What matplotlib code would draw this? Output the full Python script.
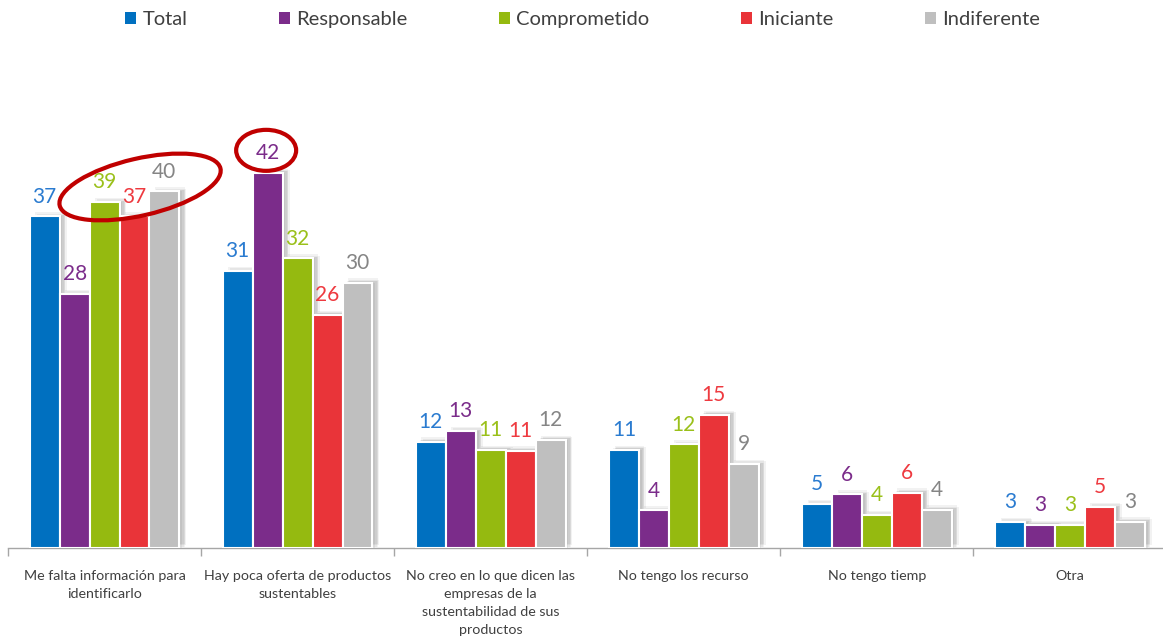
import matplotlib
matplotlib.use("Agg")
import matplotlib.pyplot as plt
import matplotlib.patheffects as pe
from matplotlib.patches import Patch, Ellipse
from matplotlib.transforms import IdentityTransform
import numpy as np

plt.rcParams['font.family'] = ['Lato', 'DejaVu Sans']

categorias = ["Me falta información para\nidentificarlo",
              "Hay poca oferta de productos\nsustentables",
              "No creo en lo que dicen las\nempresas de la\nsustentabilidad de sus\nproductos",
              "No tengo los recurso",
              "No tengo tiemp",
              "Otra"]
series = ["Total", "Responsable", "Comprometido", "Iniciante", "Indiferente"]

total = [37.1, 31.0, 11.9, 11.0, 4.9, 2.9]
responsable = [28.4, 42.0, 13.1, 4.2, 6.0, 2.6]
comprometido = [38.7, 32.4, 11.0, 11.6, 3.7, 2.55]
iniciante = [37.1, 26.1, 10.9, 14.9, 6.2, 4.6]
indiferente = [39.9, 29.7, 12.1, 9.4, 4.3, 2.95]
valores = [total, responsable, comprometido, iniciante, indiferente]

colores = ["#0070C0", "#7B2C8A", "#95BA10", "#E93439", "#BFBFBF"]
colores_txt = ["#2A7BD0", "#7B2C8A", "#9AC01A", "#EE3A40", "#858585"]

fig = plt.figure(figsize=(11.63, 6.39), dpi=100)
ax = fig.add_axes([8 / 1163, 91 / 639, 1 - 8 / 1163 + 0.003, 420 / 639])

x = np.arange(len(categorias))
w = 0.155
# sombra difusa: varias capas con poca opacidad
sombra = [pe.SimplePatchShadow(offset=(dx, dy), shadow_rgbFace="#000000", alpha=0.05)
          for dx, dy in [(5, 2), (4, 1), (3, 1), (2, 0), (4, 3)]] + [pe.Normal()]

for j, (serie, vals) in enumerate(zip(series, valores)):
    pos = x + (j - 2) * w
    barras = ax.bar(pos, vals, width=w, color=colores[j], edgecolor="white",
                    linewidth=1.5, label=serie, zorder=3)
    for b in barras:
        b.set_path_effects(sombra)
    for xi, v in zip(pos, vals):
        ax.annotate(str(int(v + 0.5)), (xi, v), xytext=(0, 7), textcoords="offset points",
                    ha="center", va="bottom", fontsize=15, color=colores_txt[j], zorder=4)

ax.set_xlim(-0.5, len(categorias) - 0.5)
ax.set_ylim(0, 47)
ax.set_yticks([])
for s in ["left", "right", "top"]:
    ax.spines[s].set_visible(False)
ax.spines["bottom"].set_color("#A6A6A6")
ax.spines["bottom"].set_linewidth(1)

ax.set_xticks(x)
ax.set_xticklabels(categorias, fontsize=10.3, color="#404040", linespacing=1.6)
ax.tick_params(axis="x", which="major", length=0, pad=16)
ax.set_xticks(np.arange(len(categorias) + 1) - 0.5, minor=True)
ax.tick_params(axis="x", which="minor", length=6, color="#A6A6A6", width=1)

# elipses rojas resaltando valores
fig.canvas.draw()
c1 = ax.transData.transform((0.184, 40.4))
c2 = ax.transData.transform((1 - 0.163, 44.5))
for c, ew, eh, ang in [(c1, 165, 57, 13), (c2, 60, 41, 0)]:
    e = Ellipse(c, ew, eh, angle=ang, fill=False, edgecolor="#C00000", linewidth=3,
                transform=IdentityTransform(), zorder=5, clip_on=False)
    fig.patches.append(e)
    e.set_figure(fig)

handles = [Patch(facecolor=c) for c in colores]
fig.legend(handles, series, loc="center", bbox_to_anchor=(0.501, 0.969), ncol=5,
           frameon=False, fontsize=14.5, handlelength=0.55, handleheight=0.55,
           handletextpad=0.3, columnspacing=4.55, labelcolor="#404040")

fig.savefig("out.png", dpi=100)
